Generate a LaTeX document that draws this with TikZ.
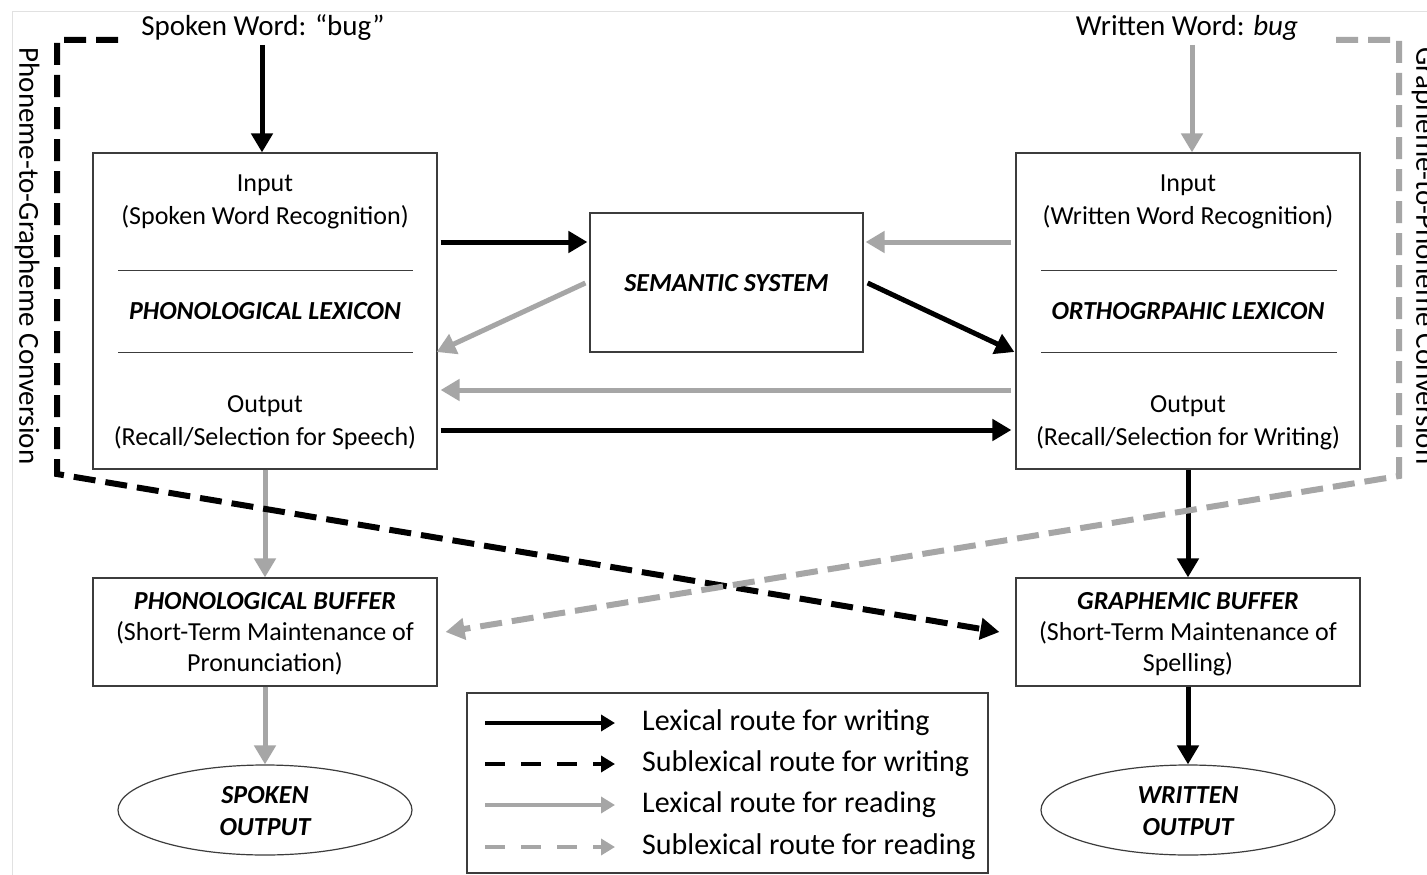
\documentclass[tikz,border=0pt]{standalone}
\usepackage{fontspec}
\setmainfont{Carlito}
\usetikzlibrary{arrows.meta,shapes.geometric}
\definecolor{lgray}{RGB}{166,166,166}
\definecolor{boxc}{RGB}{60,60,60}
\definecolor{framec}{RGB}{225,225,225}
\begin{document}
\begin{tikzpicture}[x=1pt,y=-1pt,
  box/.style={draw=boxc,line width=1.2pt,inner sep=0pt},
  txt/.style={font=\fontsize{26}{30}\selectfont,inner sep=0pt},
  btxt/.style={font=\fontsize{26}{30}\selectfont\bfseries\itshape,inner sep=0pt},
  ltxt/.style={font=\fontsize{30}{34}\selectfont,inner sep=0pt,anchor=west},
  ttxt/.style={font=\fontsize{29}{33}\selectfont,inner sep=0pt},
  rtxt/.style={font=\fontsize{29}{33}\selectfont,inner sep=0pt,rotate=-90},
  sep/.style={draw=boxc,line width=1pt},
  blk/.style={draw=black,line width=5pt,-{Triangle[length=19pt,width=21pt]}},
  gry/.style={draw=lgray,line width=5pt,-{Triangle[length=19pt,width=21pt]}},
  blkd/.style={draw=black,line width=6pt,dash pattern=on 22pt off 10pt,-{Triangle[length=19pt,width=21pt]}},
  gryd/.style={draw=lgray,line width=6pt,dash pattern=on 22pt off 10pt,-{Triangle[length=19pt,width=21pt]}},
  legblk/.style={draw=black,line width=4pt,-{Triangle[length=14pt,width=16pt]}},
  leggry/.style={draw=lgray,line width=4pt,-{Triangle[length=14pt,width=16pt]}},
  legdash/.style={dash pattern=on 20pt off 16pt}
]
\useasboundingbox (0,0) rectangle (1427,875);
\fill[white] (0,0) rectangle (1427,875);
\draw[framec,line width=1pt] (12,875) -- (12,12) -- (1427,12);

% top labels
\node[ttxt] (spoken) at (263,28) {Spoken Word: “bug”};
\node[ttxt] (written) at (1187,28) {Written Word: \textit{bug}};

% side labels
\node[rtxt] (p2g) at (27,256) {Phoneme-to-Grapheme Conversion};
\node[rtxt] (g2p) at (1424,256) {Grapheme-to-Phoneme Conversion};

% big boxes
\node[box,minimum width=344pt,minimum height=316pt] (plex) at (265,311) {};
\node[box,minimum width=344pt,minimum height=316pt] (olex) at (1188,311) {};
\node[box,minimum width=273pt,minimum height=139pt] (sem) at (726.5,282.5) {};
\node[btxt] (semt) at (726.5,283) {SEMANTIC SYSTEM};

% phonological lexicon contents
\node[txt] (pin) at (265,185) {Input};
\node[txt] (pin2) at (265,217) {(Spoken Word Recognition)};
\draw[sep] (118,270) -- (413,270);
\node[btxt] (plext) at (265,311) {PHONOLOGICAL LEXICON};
\draw[sep] (118,352) -- (413,352);
\node[txt] (pout) at (265,406) {Output};
\node[txt] (pout2) at (265,438) {(Recall/Selection for Speech)};

% orthographic lexicon contents
\node[txt] (oin) at (1188,185) {Input};
\node[txt] (oin2) at (1188,217) {(Written Word Recognition)};
\draw[sep] (1041,270) -- (1337,270);
\node[btxt] (olext) at (1188,311) {ORTHOGRPAHIC LEXICON};
\draw[sep] (1041,352) -- (1337,352);
\node[txt] (oout) at (1188,406) {Output};
\node[txt] (oout2) at (1188,438) {(Recall/Selection for Writing)};

% buffers
\node[box,minimum width=344pt,minimum height=108pt] (pbuf) at (265,632) {};
\node[btxt] (pbuf1) at (265,601) {PHONOLOGICAL BUFFER};
\node[txt] (pbuf2) at (265,633) {(Short-Term Maintenance of};
\node[txt] (pbuf3) at (265,664) {Pronunciation)};
\node[box,minimum width=344pt,minimum height=108pt] (gbuf) at (1188,632) {};
\node[btxt] (gbuf1) at (1188,601) {GRAPHEMIC BUFFER};
\node[txt] (gbuf2) at (1188,633) {(Short-Term Maintenance of};
\node[txt] (gbuf3) at (1188,664) {Spelling)};

% outputs
\node[box,ellipse,minimum width=294pt,minimum height=90pt] (sout) at (265,810) {};
\node[btxt] (sout1) at (265,795) {SPOKEN};
\node[btxt] (sout2) at (265,827) {OUTPUT};
\node[box,ellipse,minimum width=294pt,minimum height=90pt] (wout) at (1188,810) {};
\node[btxt] (wout1) at (1188,795) {WRITTEN};
\node[btxt] (wout2) at (1188,827) {OUTPUT};

% legend
\node[box,minimum width=521pt,minimum height=180pt] (leg) at (727.5,783) {};
\coordinate (l1a) at (485,723); \coordinate (l1b) at (615,723);
\coordinate (l2a) at (485,764); \coordinate (l2b) at (615,764);
\coordinate (l3a) at (485,805); \coordinate (l3b) at (615,805);
\coordinate (l4a) at (485,847); \coordinate (l4b) at (615,847);
\draw[legblk] (l1a) -- (l1b);
\draw[legblk,legdash] (l2a) -- (l2b);
\draw[leggry] (l3a) -- (l3b);
\draw[leggry,legdash] (l4a) -- (l4b);
\node[ltxt] (lt1) at (642,723) {Lexical route for writing};
\node[ltxt] (lt2) at (642,764) {Sublexical route for writing};
\node[ltxt] (lt3) at (642,805) {Lexical route for reading};
\node[ltxt] (lt4) at (642,847) {Sublexical route for reading};

% named connector ends
\coordinate (spA) at (262,45);
\coordinate (wrA) at (1192,45);

% main arrows
\draw[blk] (spA) -- (spA |- plex.north);
\draw[gry] (wrA) -- (wrA |- olex.north);
\draw[blk] ([xshift=3pt]plex.east |- 0,242) -- ([xshift=-2pt]sem.west |- 0,242);
\draw[gry] ([xshift=-4pt]olex.west |- 0,242) -- ([xshift=2pt]sem.east |- 0,242);
\draw[gry] ([xshift=-4pt]sem.west |- 0,283) -- ([xshift=-1pt]plex.east |- 0,352);
\draw[blk] ([xshift=4pt]sem.east |- 0,283) -- ([xshift=-1pt]olex.west |- 0,352);
\draw[gry] ([xshift=-4pt]olex.west |- 0,390) -- ([xshift=3pt]plex.east |- 0,390);
\draw[blk] ([xshift=3pt]plex.east |- 0,430) -- ([xshift=-4pt]olex.west |- 0,430);
\draw[gry] (plex.south) -- (pbuf.north);
\draw[blk] (olex.south) -- (gbuf.north);
\draw[gry] (pbuf.south) -- (sout.north);
\draw[blk] (gbuf.south) -- (wout.north);

% sublexical routes
\coordinate (bd0) at (118,40);
\coordinate (gd0) at (1336,40);
\draw[blkd] (bd0) -- (57,40) -- (57,474) -- ([xshift=-16pt]gbuf.west);
\draw[gryd] (gd0) -- (1399,40) -- (1399,476) -- ([xshift=8pt]pbuf.east);
\end{tikzpicture}
\end{document}
